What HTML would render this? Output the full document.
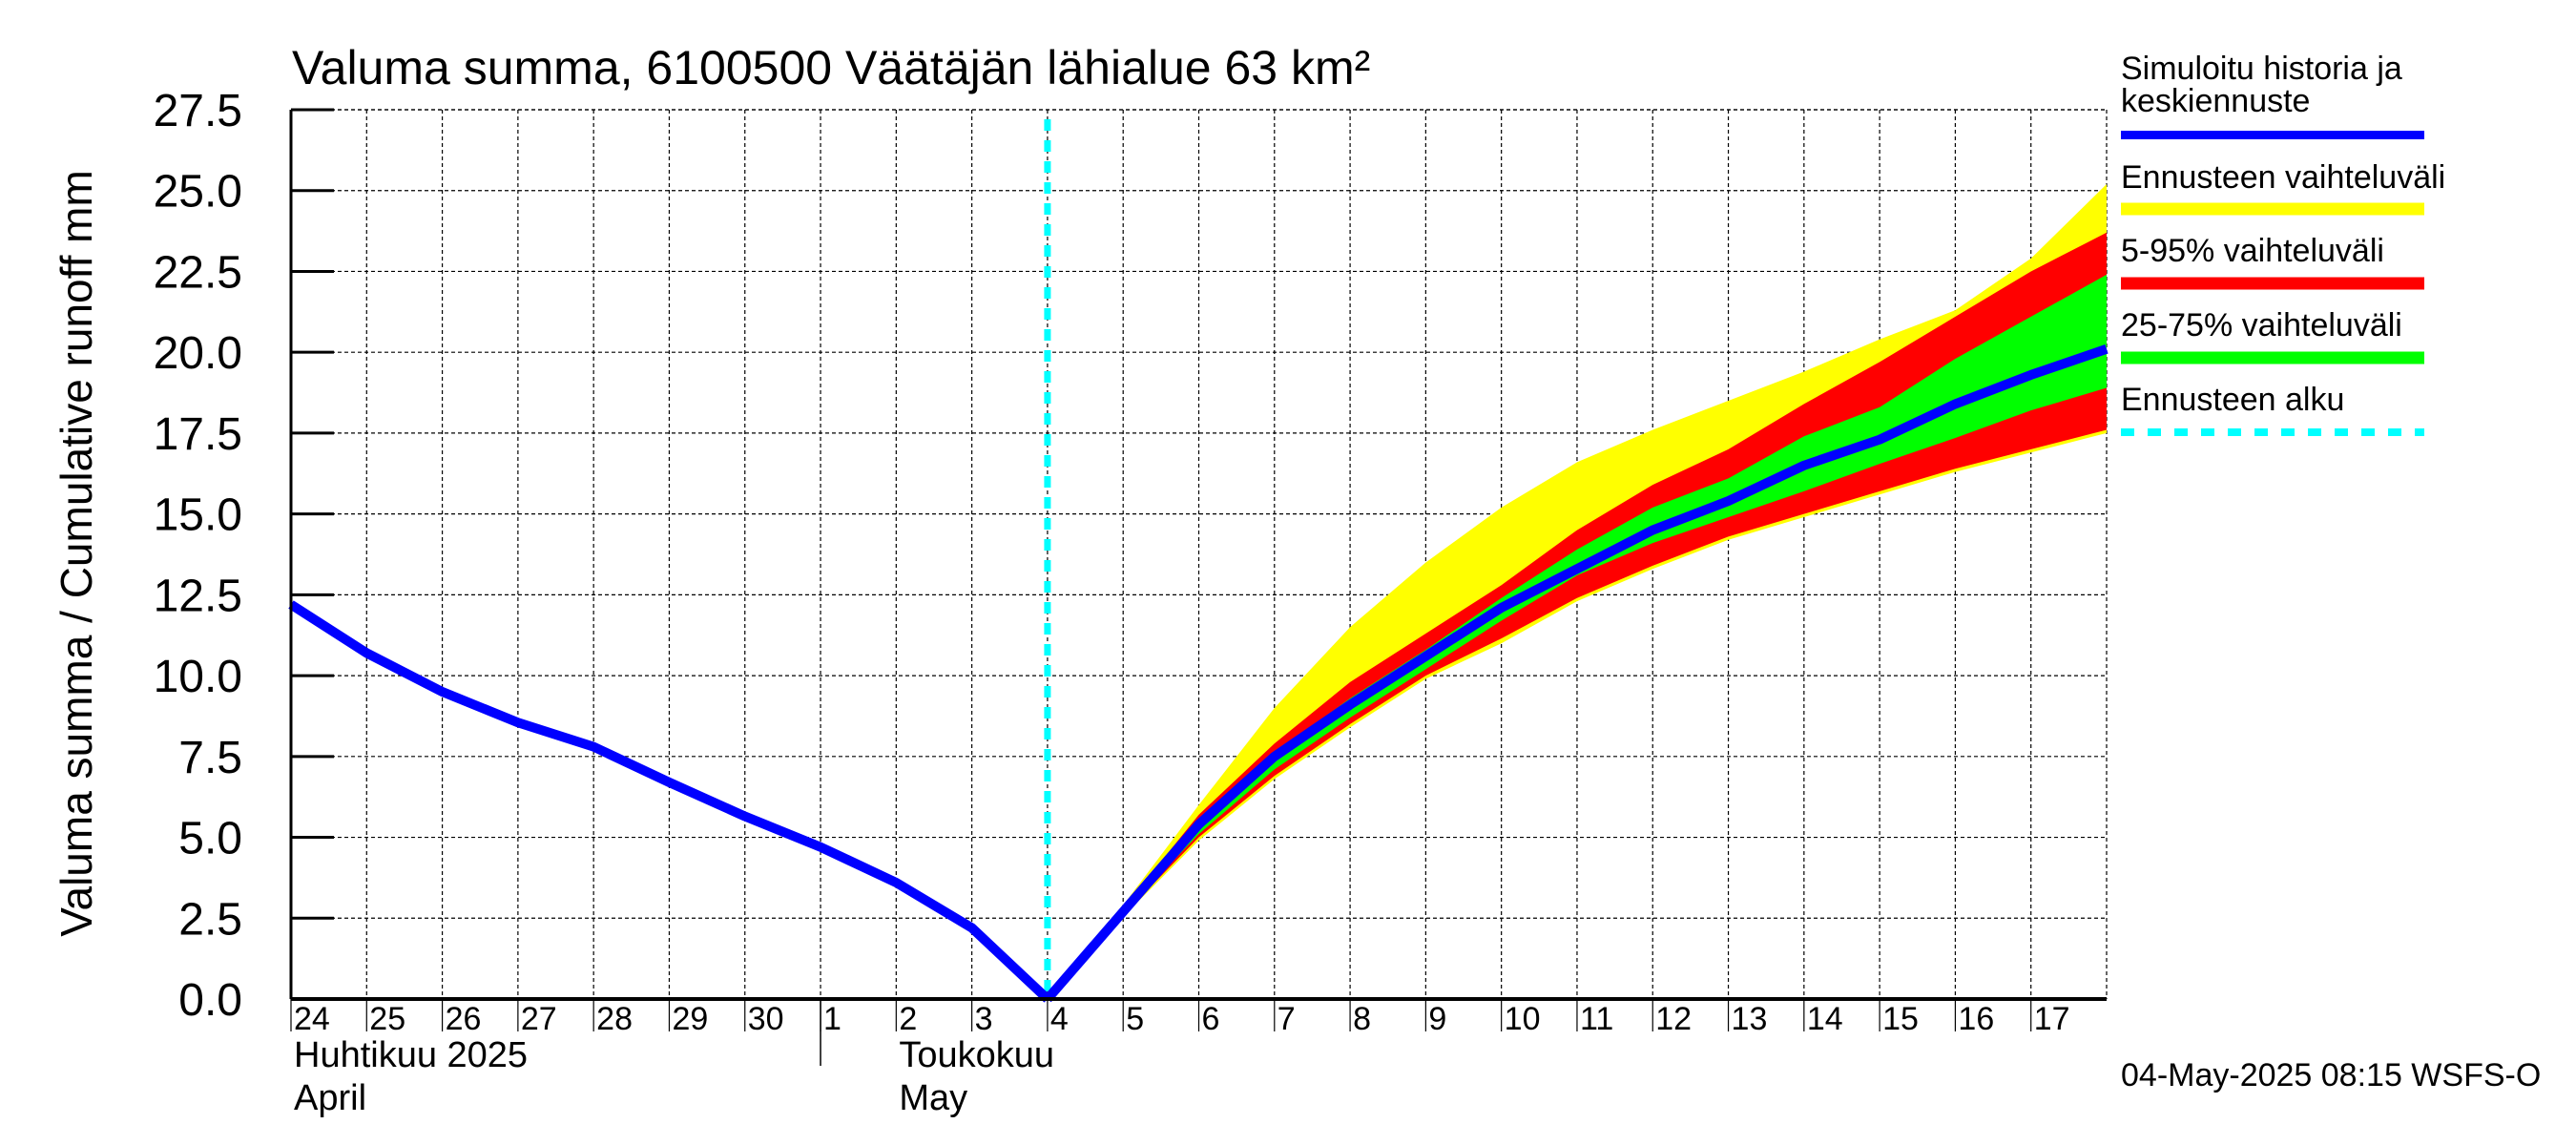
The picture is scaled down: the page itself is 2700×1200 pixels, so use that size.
<!DOCTYPE html>
<html><head><meta charset="utf-8"><style>
html,body{margin:0;padding:0;background:#fff;}
svg{display:block;font-family:"Liberation Sans",sans-serif;}
</style></head><body>
<svg id="chart" width="2700" height="1200" viewBox="0 0 2700 1200" xmlns="http://www.w3.org/2000/svg">
<rect width="2700" height="1200" fill="#fff"/>
<text x="306" y="88" font-size="50">Valuma summa, 6100500 Väätäjän lähialue 63 km²</text>
<g id="grid"></g>
<g id="bands"></g>
<g id="lines"></g>
<g id="axes"></g>
<text transform="translate(96,580) rotate(-90)" text-anchor="middle" font-size="46">Valuma summa / Cumulative runoff    mm</text>
<g>
<text x="2223" y="83" font-size="34">Simuloitu historia ja</text>
<text x="2223" y="117" font-size="34">keskiennuste</text>
<line x1="2223" x2="2541" y1="141.5" y2="141.5" stroke="#0000ff" stroke-width="9"/>
<text x="2223" y="197" font-size="34">Ennusteen vaihteluväli</text>
<line x1="2223" x2="2541" y1="219" y2="219" stroke="#ffff00" stroke-width="13"/>
<text x="2223" y="274" font-size="34">5-95% vaihteluväli</text>
<line x1="2223" x2="2541" y1="297" y2="297" stroke="#ff0000" stroke-width="13"/>
<text x="2223" y="352" font-size="34">25-75% vaihteluväli</text>
<line x1="2223" x2="2541" y1="375" y2="375" stroke="#00ff00" stroke-width="13"/>
<text x="2223" y="430" font-size="34">Ennusteen alku</text>
<line x1="2223" x2="2541" y1="453" y2="453" stroke="#00ffff" stroke-width="8" stroke-dasharray="14,14"/>
</g>
<text x="2223" y="1138" font-size="34">04-May-2025 08:15 WSFS-O</text>
</svg>
<script>
const dayLabels = ["24","25","26","27","28","29","30","1","2","3","4","5","6","7","8","9","10","11","12","13","14","15","16","17"];
const yTicks = [0,2.5,5,7.5,10,12.5,15,17.5,20,22.5,25,27.5];
const histDays = [0,1,2,3,4,5,6,7,8,9,10];
const histValues = [12.2,10.7,9.5,8.55,7.8,6.7,5.65,4.7,3.6,2.2,0];
const fcDays = [10,11,12,13,14,15,16,17,18,19,20,21,22,23,24];
const fcMedian = [0,2.7,5.4,7.5,9.1,10.6,12.1,13.3,14.5,15.4,16.5,17.3,18.4,19.3,20.1];
const fcMax = [0,2.9,6.0,9.0,11.5,13.5,15.2,16.6,17.6,18.5,19.4,20.4,21.3,22.9,25.2];
const fcP95 = [0,2.8,5.7,7.9,9.8,11.3,12.8,14.5,15.9,17.0,18.4,19.7,21.1,22.5,23.7];
const fcP75 = [0,2.75,5.5,7.6,9.3,10.8,12.4,13.9,15.2,16.1,17.4,18.3,19.8,21.1,22.4];
const fcP25 = [0,2.65,5.1,7.1,8.7,10.2,11.7,13.1,14.1,14.9,15.7,16.55,17.35,18.2,18.9];
const fcP05 = [0,2.6,5.0,6.9,8.5,10.0,11.15,12.4,13.4,14.3,15.0,15.7,16.4,17.0,17.6];
const fcMin = [0,2.55,4.9,6.8,8.4,9.9,11.0,12.3,13.3,14.2,14.9,15.6,16.3,16.9,17.5];
const forecastStartDay = 10;

const X0=305, X1=2208, Y0=1047, Y1=115, DAYS=24, YMAX=27.5;
const sx = d => X0 + (X1-X0)*d/DAYS;
const sy = v => Y0 - (Y0-Y1)*v/YMAX;
const NS="http://www.w3.org/2000/svg";
function mk(tag, parent, attrs){const e=document.createElementNS(NS,tag);for(const k in attrs)e.setAttribute(k,attrs[k]);parent.appendChild(e);return e;}
const grid=document.getElementById('grid'), bands=document.getElementById('bands'), lines=document.getElementById('lines'), axes=document.getElementById('axes');

yTicks.forEach((t,i)=>{
  const y=sy(t);
  if(i>0){const g=mk('line',grid,{x1:X0,x2:X1,y1:y,y2:y,stroke:'#000','stroke-width':1.2,'stroke-dasharray':'4,3'});
  
  }
  const tk=mk('line',axes,{x1:X0,x2:X0+45,y1:y,y2:y,stroke:'#000','stroke-width':3});
  
  
  const tx=mk('text',axes,{x:254,y:y+17,'text-anchor':'end','font-size':48});
  tx.textContent=t.toFixed(1);
  
  
});
dayLabels.forEach((lab,i)=>{
  const x=sx(i);
  if(i>0){const g=mk('line',grid,{x1:x,x2:x,y1:Y1,y2:Y0,stroke:'#000','stroke-width':1.2,'stroke-dasharray':'4,3'});
  
  }
  const tk=mk('line',axes,{x1:x,x2:x,y1:Y0,y2:Y0+34,stroke:'#000','stroke-width':1.2});
  
  
  const tx=mk('text',axes,{x:x+3,y:1079,'font-size':34});
  tx.textContent=lab;
  
  
});
const g2=mk('line',grid,{x1:X1,x2:X1,y1:Y1,y2:Y0,stroke:'#000','stroke-width':1.2,'stroke-dasharray':'4,3'});


const g3=mk('line',grid,{x1:X0,x2:X1,y1:Y1,y2:Y1,stroke:'#000','stroke-width':1.2,'stroke-dasharray':'4,3'});



function band(upper, lower, color, name){
  let pts=fcDays.map((d,i)=>sx(d)+','+sy(upper[i]));
  for(let i=fcDays.length-1;i>=0;i--) pts.push(sx(fcDays[i])+','+sy(lower[i]));
  const p=mk('polygon',bands,{points:pts.join(' '),fill:color});
  
  
}
band(fcMax,fcMin,'#ffff00','band-range');
band(fcP95,fcP05,'#ff0000','band-5-95');
band(fcP75,fcP25,'#00ff00','band-25-75');

const fs=mk('line',lines,{x1:sx(forecastStartDay),x2:sx(forecastStartDay),y1:Y1+10,y2:Y0,stroke:'#00ffff','stroke-width':7,'stroke-dasharray':'12,10'});


const hp=mk('polyline',lines,{points:histDays.map((d,i)=>sx(d)+','+sy(histValues[i])).join(' '),fill:'none',stroke:'#0000ff','stroke-width':10,'stroke-linejoin':'round'});


const mp=mk('polyline',lines,{points:fcDays.map((d,i)=>sx(d)+','+sy(fcMedian[i])).join(' '),fill:'none',stroke:'#0000ff','stroke-width':10,'stroke-linejoin':'round'});



const ya=mk('line',axes,{x1:X0,x2:X0,y1:Y1,y2:Y0,stroke:'#000','stroke-width':3});


const xa=mk('line',axes,{x1:X0,x2:X1,y1:Y0,y2:Y0,stroke:'#000','stroke-width':4});


const ms=mk('line',axes,{x1:sx(7),x2:sx(7),y1:Y0,y2:1117,stroke:'#000','stroke-width':1.5});


[["Huhtikuu  2025",X0,1118,'month-label-april-fi'],["April",X0,1163,'month-label-april-en'],["Toukokuu",sx(8),1118,'month-label-may-fi'],["May",sx(8),1163,'month-label-may-en']].forEach(m=>{
  const t=mk('text',axes,{x:m[1]+3,y:m[2],'font-size':38,'xml:space':'preserve'});
  t.textContent=m[0];
  
  
});
</script>
</body></html>
